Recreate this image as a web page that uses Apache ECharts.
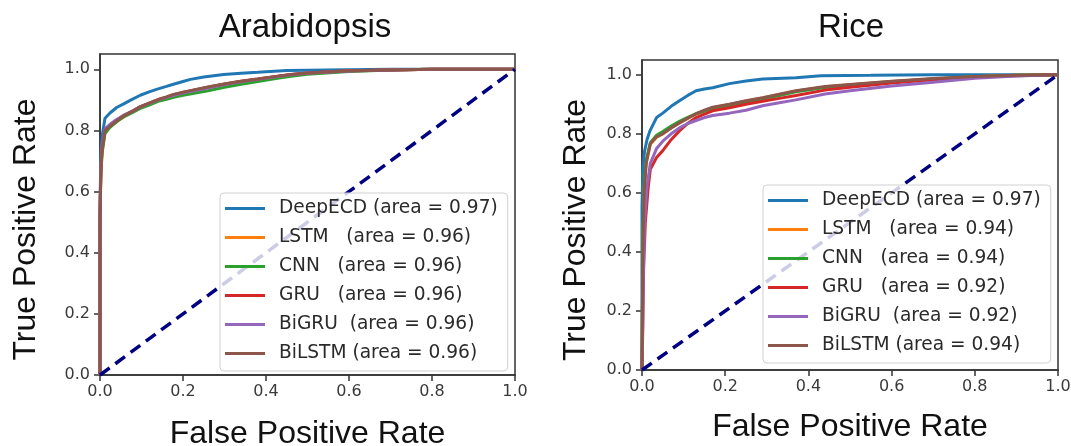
<!DOCTYPE html>
<html>
<head>
<meta charset="utf-8">
<script src="https://cdn.jsdelivr.net/npm/echarts@6/dist/echarts.min.js"></script>
<style>
  html, body { margin: 0; padding: 0; background: #fff; }
  #chart { width: 1071px; height: 446px; }
</style>
</head>
<body>
<div id="chart"></div>
<script>
// ROC points [fpr, tpr]
const araDeepECD = [[0,0],[0,0.55],[0.002,0.72],[0.005,0.78],[0.012,0.84],[0.024,0.857],[0.04,0.875],[0.056,0.886],[0.075,0.9],[0.097,0.915],[0.12,0.927],[0.138,0.935],[0.16,0.944],[0.177,0.951],[0.2,0.96],[0.218,0.967],[0.25,0.975],[0.298,0.983],[0.34,0.987],[0.38,0.99],[0.45,0.996],[0.55,0.998],[0.7,1],[1,1]]
const araLSTM = [[0,0],[0,0.5],[0.002,0.66],[0.005,0.73],[0.012,0.795],[0.024,0.812],[0.04,0.83],[0.056,0.845],[0.08,0.862],[0.097,0.875],[0.12,0.888],[0.14,0.9],[0.16,0.908],[0.18,0.917],[0.2,0.923],[0.22,0.929],[0.26,0.94],[0.3,0.951],[0.34,0.96],[0.38,0.967],[0.42,0.975],[0.46,0.982],[0.5,0.987],[0.6,0.994],[0.7,0.998],[0.8,1],[1,1]]
const araCNN = [[0,0],[0,0.48],[0.002,0.65],[0.005,0.725],[0.012,0.79],[0.024,0.81],[0.04,0.828],[0.056,0.843],[0.08,0.86],[0.097,0.872],[0.12,0.884],[0.14,0.895],[0.16,0.902],[0.18,0.909],[0.2,0.915],[0.22,0.92],[0.26,0.93],[0.3,0.941],[0.34,0.951],[0.38,0.96],[0.42,0.969],[0.46,0.977],[0.5,0.984],[0.6,0.993],[0.7,0.998],[0.8,1],[1,1]]
const araGRU = [[0,0],[0,0.52],[0.002,0.67],[0.005,0.74],[0.012,0.8],[0.024,0.815],[0.04,0.832],[0.056,0.847],[0.08,0.864],[0.097,0.877],[0.12,0.89],[0.14,0.901],[0.16,0.909],[0.18,0.918],[0.2,0.924],[0.22,0.93],[0.26,0.941],[0.3,0.952],[0.34,0.961],[0.38,0.968],[0.42,0.976],[0.46,0.983],[0.5,0.988],[0.6,0.995],[0.7,0.998],[0.8,1],[1,1]]
const araBiGRU = [[0,0],[0,0.53],[0.002,0.68],[0.005,0.75],[0.012,0.805],[0.024,0.82],[0.04,0.836],[0.056,0.849],[0.08,0.865],[0.097,0.877],[0.12,0.889],[0.14,0.9],[0.16,0.908],[0.18,0.916],[0.2,0.922],[0.22,0.928],[0.26,0.939],[0.3,0.95],[0.34,0.959],[0.38,0.967],[0.42,0.975],[0.46,0.982],[0.5,0.987],[0.6,0.994],[0.7,0.998],[0.8,1],[1,1]]
const araBiLSTM = [[0,0],[0,0.51],[0.002,0.67],[0.005,0.74],[0.012,0.8],[0.024,0.814],[0.04,0.831],[0.056,0.847],[0.08,0.864],[0.097,0.878],[0.12,0.89],[0.14,0.901],[0.16,0.91],[0.177,0.918],[0.2,0.925],[0.22,0.931],[0.26,0.942],[0.3,0.952],[0.34,0.961],[0.38,0.968],[0.42,0.976],[0.46,0.983],[0.5,0.988],[0.6,0.995],[0.7,0.998],[0.8,1],[1,1]]

const riceDeepECD = [[0,0],[0,0.55],[0.002,0.68],[0.006,0.74],[0.012,0.78],[0.019,0.81],[0.035,0.855],[0.05,0.87],[0.07,0.893],[0.09,0.912],[0.11,0.93],[0.13,0.946],[0.15,0.952],[0.17,0.956],[0.21,0.97],[0.25,0.979],[0.29,0.986],[0.37,0.99],[0.43,0.997],[0.55,0.998],[0.7,1],[1,1]]
const riceLSTM = [[0,0],[0.002,0.42],[0.005,0.61],[0.01,0.7],[0.02,0.765],[0.035,0.788],[0.05,0.8],[0.07,0.82],[0.09,0.837],[0.11,0.852],[0.13,0.867],[0.15,0.878],[0.17,0.888],[0.21,0.899],[0.25,0.911],[0.29,0.921],[0.33,0.933],[0.37,0.945],[0.44,0.959],[0.5,0.966],[0.6,0.977],[0.7,0.986],[0.8,0.993],[0.9,0.998],[1,1]]
const riceCNN = [[0,0],[0.002,0.45],[0.005,0.62],[0.01,0.71],[0.02,0.77],[0.035,0.795],[0.05,0.808],[0.07,0.826],[0.09,0.842],[0.11,0.856],[0.13,0.868],[0.15,0.877],[0.17,0.885],[0.21,0.896],[0.25,0.908],[0.29,0.918],[0.33,0.93],[0.37,0.942],[0.44,0.957],[0.5,0.965],[0.6,0.976],[0.7,0.986],[0.8,0.993],[0.9,0.998],[1,1]]
const riceGRU = [[0,0],[0.002,0.15],[0.004,0.35],[0.008,0.5],[0.015,0.62],[0.02,0.68],[0.035,0.72],[0.05,0.743],[0.07,0.78],[0.09,0.81],[0.11,0.835],[0.13,0.855],[0.15,0.867],[0.17,0.878],[0.21,0.888],[0.25,0.9],[0.29,0.91],[0.33,0.92],[0.37,0.93],[0.44,0.948],[0.5,0.958],[0.6,0.972],[0.7,0.983],[0.8,0.992],[0.9,0.997],[1,1]]
const riceBiGRU = [[0,0],[0.003,0.3],[0.006,0.5],[0.012,0.62],[0.02,0.7],[0.035,0.75],[0.05,0.775],[0.07,0.8],[0.09,0.82],[0.11,0.835],[0.13,0.845],[0.15,0.855],[0.17,0.862],[0.21,0.87],[0.25,0.88],[0.29,0.895],[0.33,0.905],[0.37,0.915],[0.44,0.935],[0.5,0.946],[0.6,0.962],[0.7,0.975],[0.8,0.988],[0.9,0.996],[1,1]]
const riceBiLSTM = [[0,0],[0.002,0.4],[0.005,0.6],[0.01,0.7],[0.02,0.767],[0.035,0.79],[0.05,0.8],[0.07,0.82],[0.09,0.837],[0.11,0.853],[0.13,0.868],[0.15,0.88],[0.17,0.89],[0.21,0.9],[0.25,0.912],[0.29,0.922],[0.33,0.934],[0.37,0.946],[0.44,0.96],[0.5,0.967],[0.6,0.978],[0.7,0.987],[0.8,0.994],[0.9,0.998],[1,1]]

const chance = [[0,0],[1,1]]

const models = ['DeepECD', 'LSTM', 'CNN', 'GRU', 'BiGRU', 'BiLSTM']
const araLabels = ['DeepECD (area = 0.97)', 'LSTM   (area = 0.96)', 'CNN   (area = 0.96)', 'GRU   (area = 0.96)', 'BiGRU  (area = 0.96)', 'BiLSTM (area = 0.96)']
const riceLabels = ['DeepECD (area = 0.97)', 'LSTM   (area = 0.94)', 'CNN   (area = 0.94)', 'GRU   (area = 0.92)', 'BiGRU  (area = 0.92)', 'BiLSTM (area = 0.94)']
const colors = ['#1f77b4', '#ff7f0e', '#2ca02c', '#d62728', '#9467bd', '#8c564b']
const tickValues = [0, 0.2, 0.4, 0.6, 0.8, 1.0]

const araData = [araDeepECD, araLSTM, araCNN, araGRU, araBiGRU, araBiLSTM]
const riceData = [riceDeepECD, riceLSTM, riceCNN, riceGRU, riceBiGRU, riceBiLSTM]

const chart = echarts.init(document.getElementById('chart'))

const tickFont = { fontFamily: 'DejaVu Sans', fontSize: 16, color: '#3a3a3a' }
const nameFont = { fontFamily: 'Liberation Sans', fontSize: 32, color: '#111' }

function xAxisOf(i, gap) {
  return {
    gridIndex: i, type: 'value', min: 0, max: 1,
    name: 'False Positive Rate', nameLocation: 'middle', nameGap: gap,
    nameTextStyle: nameFont,
    axisLine: { show: true, lineStyle: { color: '#333', width: 1.5 } },
    axisTick: { show: true, length: 6, customValues: tickValues, lineStyle: { color: '#333', width: 1.5 } },
    axisLabel: { customValues: tickValues, margin: 9, formatter: v => v.toFixed(1), ...tickFont },
    splitLine: { show: false }
  }
}
function yAxisOf(i, gap) {
  return {
    gridIndex: i, type: 'value', min: 0, max: 1.05,
    name: 'True Positive Rate', nameLocation: 'middle', nameGap: gap,
    nameTextStyle: { ...nameFont, padding: [0, 30, 0, 0] },
    axisLine: { show: true, lineStyle: { color: '#333', width: 1.5 } },
    axisTick: { show: true, length: 6, customValues: tickValues, lineStyle: { color: '#333', width: 1.5 } },
    axisLabel: { customValues: tickValues, margin: 10, formatter: v => v.toFixed(1), ...tickFont },
    splitLine: { show: false }
  }
}

const series = []
;[araData, riceData].forEach((set, g) => {
  set.forEach((pts, k) => {
    series.push({
      name: (g === 0 ? 'a-' : 'r-') + models[k],
      type: 'line', xAxisIndex: g, yAxisIndex: g,
      data: pts, showSymbol: false, symbol: 'none',
      lineStyle: { width: 3, color: colors[k] },
      itemStyle: { color: colors[k] },
      emphasis: { disabled: true }, animation: false
    })
  })
  series.push({
    name: 'chance' + g, type: 'line', xAxisIndex: g, yAxisIndex: g,
    data: chance, showSymbol: false, symbol: 'none',
    lineStyle: { width: 3.5, color: '#000080', type: [12, 7] },
    emphasis: { disabled: true }, animation: false
  })
})

function legendOf(prefix, labels, pos) {
  return {
    orient: 'vertical', left: pos.left, top: pos.top,
    data: models.map(m => prefix + m),
    formatter: name => labels[models.indexOf(name.slice(2))],
    icon: 'rect', itemWidth: 40, itemHeight: 3, itemGap: 10,
    padding: [6, 10, 8, 5],
    borderColor: '#d0d0d0', borderWidth: 1, borderRadius: 4,
    backgroundColor: 'rgba(255,255,255,0.8)',
    textStyle: { fontFamily: 'DejaVu Sans', fontSize: 18.6, color: '#2a2a2a', padding: [0, 0, 0, 9] },
    selectedMode: false
  }
}

chart.setOption({
  animation: false,
  title: [
    { text: 'Arabidopsis', left: 300, top: 6, textAlign: 'center',
      textStyle: { fontFamily: 'Liberation Sans', fontSize: 33, fontWeight: 'normal', color: '#111' } },
    { text: 'Rice', left: 846, top: 6, textAlign: 'center',
      textStyle: { fontFamily: 'Liberation Sans', fontSize: 33, fontWeight: 'normal', color: '#111' } }
  ],
  grid: [
    { left: 100, top: 54, width: 415, height: 321, show: true, borderColor: '#333', borderWidth: 1.5,
      outerBoundsMode: 'none', containLabel: false },
    { left: 642, top: 60, width: 416, height: 310, show: true, borderColor: '#333', borderWidth: 1.5,
      outerBoundsMode: 'none', containLabel: false }
  ],
  xAxis: [xAxisOf(0, 43), xAxisOf(1, 41)],
  yAxis: [yAxisOf(0, 58), yAxisOf(1, 50)],
  legend: [
    legendOf('a-', araLabels, { left: 220, top: 193 }),
    legendOf('r-', riceLabels, { left: 763, top: 185 })
  ],
  series: series
})
</script>
</body>
</html>
